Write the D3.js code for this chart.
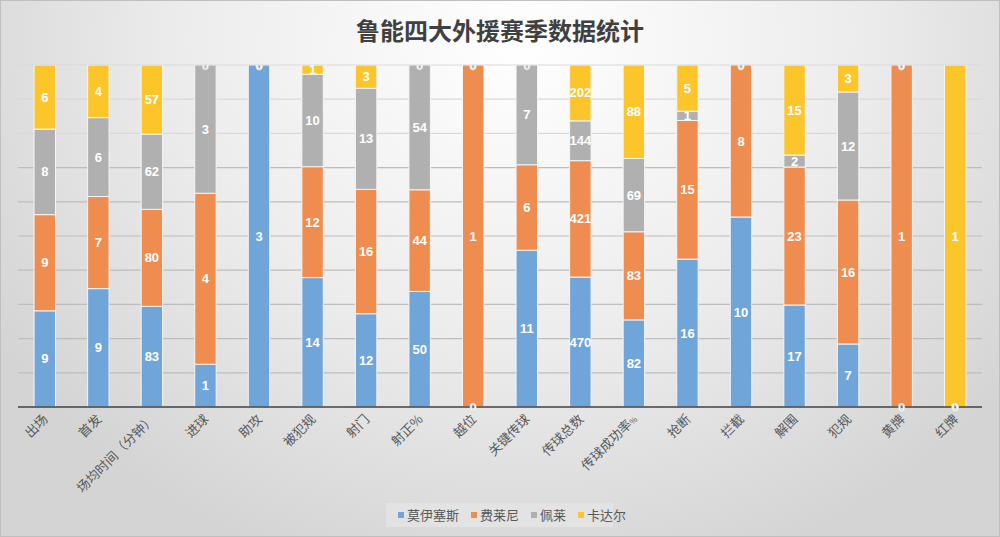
<html>
<head>
  <meta charset="utf-8">
  <title>鲁能四大外援赛季数据统计</title>
  <script src="https://d3js.org/d3.v7.min.js"></script>
  <style>
    body { margin: 0; padding: 0; background: #fff; }
    svg { display: block; font-family: "Noto Sans CJK SC", "Noto Sans", sans-serif; }
  </style>
</head>
<body>
  <svg id="chart" width="1000" height="537"></svg>
  <script>
    // categories and series values
    const categories = ["出场", "首发", "场均时间（分钟）", "进球", "助攻", "被犯规", "射门", "射正%", "越位",
      "关键传球", "传球总数", "传球成功率%", "抢断", "拦截", "解围", "犯规", "黄牌", "红牌"];
    const seriesNames = ["莫伊塞斯", "费莱尼", "佩莱", "卡达尔"];
    const moises = [9, 9, 83, 1, 3, 14, 12, 50, 0, 11, 470, 82, 16, 10, 17, 7, 0, 0];
    const fellaini = [9, 7, 80, 4, 0, 12, 16, 44, 1, 6, 421, 83, 15, 8, 23, 16, 1, 0];
    const pelle = [8, 6, 62, 3, 0, 10, 13, 54, 0, 7, 144, 69, 1, 0, 2, 12, 0, 0];
    const kadar = [6, 4, 57, 0, 0, 1, 3, 0, 0, 0, 202, 88, 5, 0, 15, 3, 0, 1];
    const yTicks = [0, 0.1, 0.2, 0.3, 0.4, 0.5, 0.6, 0.7, 0.8, 0.9, 1];

    const colors = ["#6fa5d8", "#ee8d4f", "#b0b0b0", "#fcc62b"];
    const W = 1000, H = 537;
    const plot = { left: 18, right: 982, top: 65, bottom: 407 };

    const svg = d3.select("#chart");
    const defs = svg.append("defs");

    // background gradient like the office chart style
    const grad = defs.append("radialGradient")
      .attr("id", "bg")
      .attr("gradientUnits", "userSpaceOnUse")
      .attr("cx", 520).attr("cy", 40).attr("r", 620)
      .attr("gradientTransform", "translate(520,40) scale(1,0.9) translate(-520,-40)");
    grad.append("stop").attr("offset", "0%").attr("stop-color", "#ffffff");
    grad.append("stop").attr("offset", "55%").attr("stop-color", "#ececec");
    grad.append("stop").attr("offset", "100%").attr("stop-color", "#d4d4d4");

    svg.append("rect")
      .attr("x", 0.5).attr("y", 0.5)
      .attr("width", W - 1).attr("height", H - 1)
      .attr("fill", "url(#bg)")
      .attr("stroke", "#bfbfbf");

    defs.append("clipPath").attr("id", "plotClip")
      .append("rect")
      .attr("x", plot.left).attr("y", plot.top)
      .attr("width", plot.right - plot.left).attr("height", plot.bottom - plot.top);

    // labels may spill past the axis but not above the plot top
    defs.append("clipPath").attr("id", "labelClip")
      .append("rect")
      .attr("x", plot.left).attr("y", plot.top)
      .attr("width", plot.right - plot.left).attr("height", plot.bottom - plot.top + 12);

    // title
    svg.append("text")
      .attr("x", 500).attr("y", 40)
      .attr("text-anchor", "middle")
      .attr("font-size", "24px")
      .attr("font-weight", "bold")
      .attr("fill", "#404040")
      .text("鲁能四大外援赛季数据统计");

    // build stacked percentage data
    const table = categories.map((c, i) => ({
      cat: c,
      "莫伊塞斯": moises[i], "费莱尼": fellaini[i], "佩莱": pelle[i], "卡达尔": kadar[i]
    }));
    const stacked = d3.stack().keys(seriesNames).offset(d3.stackOffsetExpand)(table);

    const x = d3.scaleBand()
      .domain(categories)
      .range([plot.left, plot.right])
      .paddingInner(0.6)
      .paddingOuter(0.3);
    const y = d3.scaleLinear().domain([0, 1]).range([plot.bottom, plot.top]);

    // gridlines
    svg.append("g")
      .selectAll("line")
      .data(yTicks.slice(1))
      .join("line")
      .attr("x1", plot.left).attr("x2", plot.right)
      .attr("y1", d => y(d)).attr("y2", d => y(d))
      .attr("stroke", d => d > 0.75 ? "#d9d9d9" : "#bdbdbd")
      .attr("stroke-width", 1.2);

    // bars
    const layers = svg.append("g").attr("clip-path", "url(#plotClip)")
      .selectAll("g")
      .data(stacked)
      .join("g")
      .attr("fill", (d, i) => colors[i]);

    layers.selectAll("rect")
      .data(d => d)
      .join("rect")
      .attr("x", d => x(d.data.cat))
      .attr("width", x.bandwidth())
      .attr("y", d => y(isNaN(d[1]) ? 0 : d[1]))
      .attr("height", d => y(isNaN(d[0]) ? 0 : d[0]) - y(isNaN(d[1]) ? 0 : d[1]))
      .attr("stroke", "#f4f4f4")
      .attr("stroke-width", 1);

    // axis line
    svg.append("line")
      .attr("x1", plot.left).attr("x2", plot.right)
      .attr("y1", plot.bottom).attr("y2", plot.bottom)
      .attr("stroke", "#404040")
      .attr("stroke-width", 1.5);

    // data labels
    const labels = svg.append("g").attr("clip-path", "url(#labelClip)");
    stacked.forEach(layer => {
      layer.forEach(d => {
        const v = d.data[layer.key];
        const y0 = y(d[0]), y1 = y(d[1]);
        labels.append("text")
          .attr("x", x(d.data.cat) + x.bandwidth() / 2)
          .attr("y", (y0 + y1) / 2)
          .attr("dy", "0.35em")
          .attr("text-anchor", "middle")
          .attr("font-size", "13px")
          .attr("font-weight", "bold")
          .attr("font-family", "Liberation Sans, Arial, sans-serif")
          .attr("fill", "#ffffff")
          .attr("stroke", v === 0 ? "#cccccc" : "none")
          .attr("stroke-width", 0.4)
          .text(v);
      });
    });

    // category labels, rotated
    const xl = svg.append("g");
    categories.forEach(c => {
      const cx = x(c) + x.bandwidth() / 2;
      const t = xl.append("text")
        .attr("transform", `translate(${cx + 4},${plot.bottom + 13}) rotate(-45)`)
        .attr("text-anchor", "end")
        .attr("font-size", "13px")
        .attr("fill", "#595959");
      if (c === "传球成功率%") {
        t.append("tspan").text("传球成功率");
        t.append("tspan").attr("font-size", "8px").text("%");
      } else {
        t.text(c);
      }
    });

    // legend
    const legend = svg.append("g");
    legend.append("rect")
      .attr("x", 386).attr("y", 503)
      .attr("width", 227).attr("height", 24)
      .attr("fill", "#e8e8e8")
      .attr("opacity", 0.6);
    let lx = 398;
    seriesNames.forEach((s, i) => {
      legend.append("rect")
        .attr("x", lx).attr("y", 512)
        .attr("width", 6).attr("height", 6)
        .attr("fill", colors[i]);
      const tx = legend.append("text")
        .attr("x", lx + 9).attr("y", 520)
        .attr("font-size", "13px")
        .attr("fill", "#595959")
        .text(s);
      lx += 9 + tx.node().getComputedTextLength() + 12;
    });
  </script>
</body>
</html>
